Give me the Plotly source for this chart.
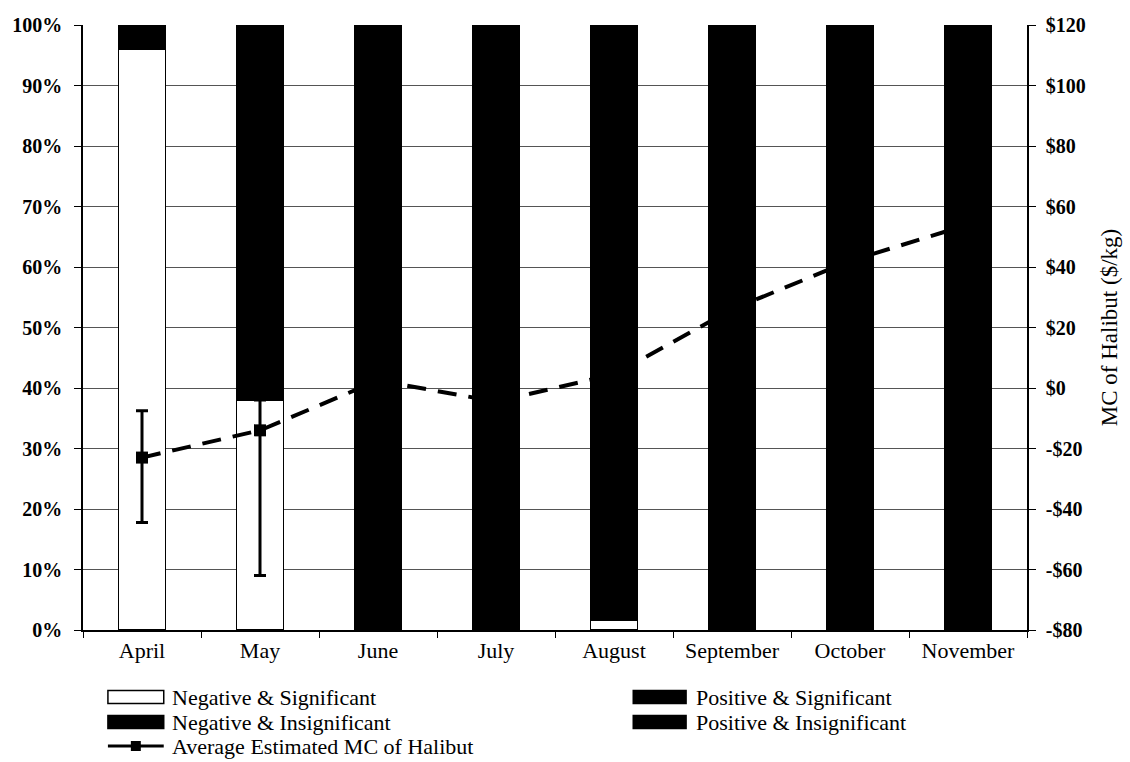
import plotly.graph_objects as go

# Months on the category axis
months = ["April", "May", "June", "July", "August", "September", "October", "November"]

# Share of estimates in each sign/significance class (percent)
neg_sig = [96.0, 38.0, 0.0, 0.0, 1.6, 0.0, 0.0, 0.0]
neg_insig = [4.0, 62.0, 0.0, 0.0, 0.0, 0.0, 0.0, 0.0]
pos_sig = [0.0, 0.0, 100.0, 100.0, 98.4, 100.0, 100.0, 100.0]
pos_insig = [0.0, 0.0, 0.0, 0.0, 0.0, 0.0, 0.0, 0.0]

# Average estimated marginal cost of halibut ($/kg) with its range
avg_mc = [-23.0, -14.0, 2.5, -4.5, 4.5, 26.0, 42.0, 54.0]
mc_err_plus = [15.5, 10.0, None, None, None, None, None, None]
mc_err_minus = [21.5, 48.0, None, None, None, None, None, None]

# Axis ticks
pct_ticks = [0, 10, 20, 30, 40, 50, 60, 70, 80, 90, 100]
pct_labels = ["0%", "10%", "20%", "30%", "40%", "50%", "60%", "70%", "80%", "90%", "100%"]
usd_ticks = [-80, -60, -40, -20, 0, 20, 40, 60, 80, 100, 120]
usd_labels = ["-$80", "-$60", "-$40", "-$20", "$0", "$20", "$40", "$60", "$80", "$100", "$120"]

SERIF = "Liberation Serif, Times New Roman, serif"
W, H = 1130, 762
ML, MR, MT, MB = 83, 100, 25, 132

fig = go.Figure()

bar_style = dict(marker_line_color="black", marker_line_width=1.5, showlegend=False)
fig.add_trace(go.Bar(x=months, y=neg_sig, name="Negative & Significant",
                     marker_color="white", **bar_style))
fig.add_trace(go.Bar(x=months, y=neg_insig, name="Negative & Insignificant",
                     marker_color="black", **bar_style))
fig.add_trace(go.Bar(x=months, y=pos_sig, name="Positive & Significant",
                     marker_color="black", **bar_style))
fig.add_trace(go.Bar(x=months, y=pos_insig, name="Positive & Insignificant",
                     marker_color="black", **bar_style))

fig.add_trace(go.Scatter(
    x=months, y=avg_mc, yaxis="y2", mode="lines+markers",
    name="Average Estimated MC of Halibut", showlegend=False,
    line=dict(color="black", width=4, dash="19px,12px"),
    marker=dict(symbol="square", size=12, color="black"),
    error_y=dict(type="data", symmetric=False, array=mc_err_plus,
                 arrayminus=mc_err_minus, color="black", thickness=3, width=6),
))


def px_x(p):
    return (p - ML) / (W - ML - MR)


def px_y(p):
    return (H - MB - p) / (H - MT - MB)


# Legend drawn below the plot area
shapes = []
annotations = []
legend_rows = [
    ("rect", "white", "Negative & Significant", 108, 164, 170, 697),
    ("rect", "black", "Negative & Insignificant", 108, 164, 170, 722),
    ("line", "black", "Average Estimated MC of Halibut", 108, 164, 170, 746),
    ("rect", "black", "Positive & Significant", 635, 688, 696, 697),
    ("rect", "black", "Positive & Insignificant", 635, 688, 696, 722),
]
for kind, color, label, x0, x1, tx, yc in legend_rows:
    if kind == "rect":
        shapes.append(dict(type="rect", xref="paper", yref="paper",
                           x0=px_x(x0), x1=px_x(x1), y0=px_y(yc - 6.5), y1=px_y(yc + 6.5),
                           fillcolor=color, line=dict(color="black", width=1.5)))
    else:
        shapes.append(dict(type="line", xref="paper", yref="paper",
                           x0=px_x(x0), x1=px_x(x1), y0=px_y(yc), y1=px_y(yc),
                           line=dict(color="black", width=3)))
        mx = (x0 + x1) / 2
        shapes.append(dict(type="rect", xref="paper", yref="paper",
                           x0=px_x(mx - 5), x1=px_x(mx + 5), y0=px_y(yc - 5), y1=px_y(yc + 5),
                           fillcolor="black", line=dict(color="black", width=0)))
    annotations.append(dict(text=label, xref="paper", yref="paper",
                            x=px_x(tx), y=px_y(yc), xanchor="left", yanchor="middle",
                            showarrow=False, font=dict(family=SERIF, size=22, color="black")))

fig.update_layout(
    width=W, height=H,
    margin=dict(l=ML, r=MR, t=MT, b=MB, pad=0),
    paper_bgcolor="white", plot_bgcolor="white",
    barmode="stack", bargap=0.6,
    font=dict(family=SERIF, color="black"),
    showlegend=False,
    xaxis=dict(type="category", range=[-0.5, 7.5], tickson="boundaries",
               ticks="outside", ticklen=6, tickcolor="black",
               showline=True, linecolor="black", linewidth=1.5,
               showgrid=False, tickfont=dict(family=SERIF, size=22)),
    yaxis=dict(range=[0, 100], tickvals=pct_ticks, ticktext=pct_labels,
               ticks="outside", ticklen=7, tickcolor="black",
               showline=True, linecolor="black", linewidth=1.5,
               showgrid=True, gridcolor="#555555", gridwidth=1,
               zeroline=False, ticklabelstandoff=8,
               tickfont=dict(family=SERIF, size=20, weight="bold")),
    yaxis2=dict(overlaying="y", side="right", range=[-80, 120],
                tickvals=usd_ticks, ticktext=usd_labels,
                ticks="outside", ticklen=7, tickcolor="black",
                showline=True, linecolor="black", linewidth=1.5,
                showgrid=False, zeroline=False, ticklabelstandoff=6,
                tickfont=dict(family=SERIF, size=20, weight="bold"),
                title=dict(text="MC of Halibut ($/kg)", standoff=16,
                           font=dict(family=SERIF, size=23))),
    shapes=shapes,
    annotations=annotations,
)

fig.write_html("out.html")
